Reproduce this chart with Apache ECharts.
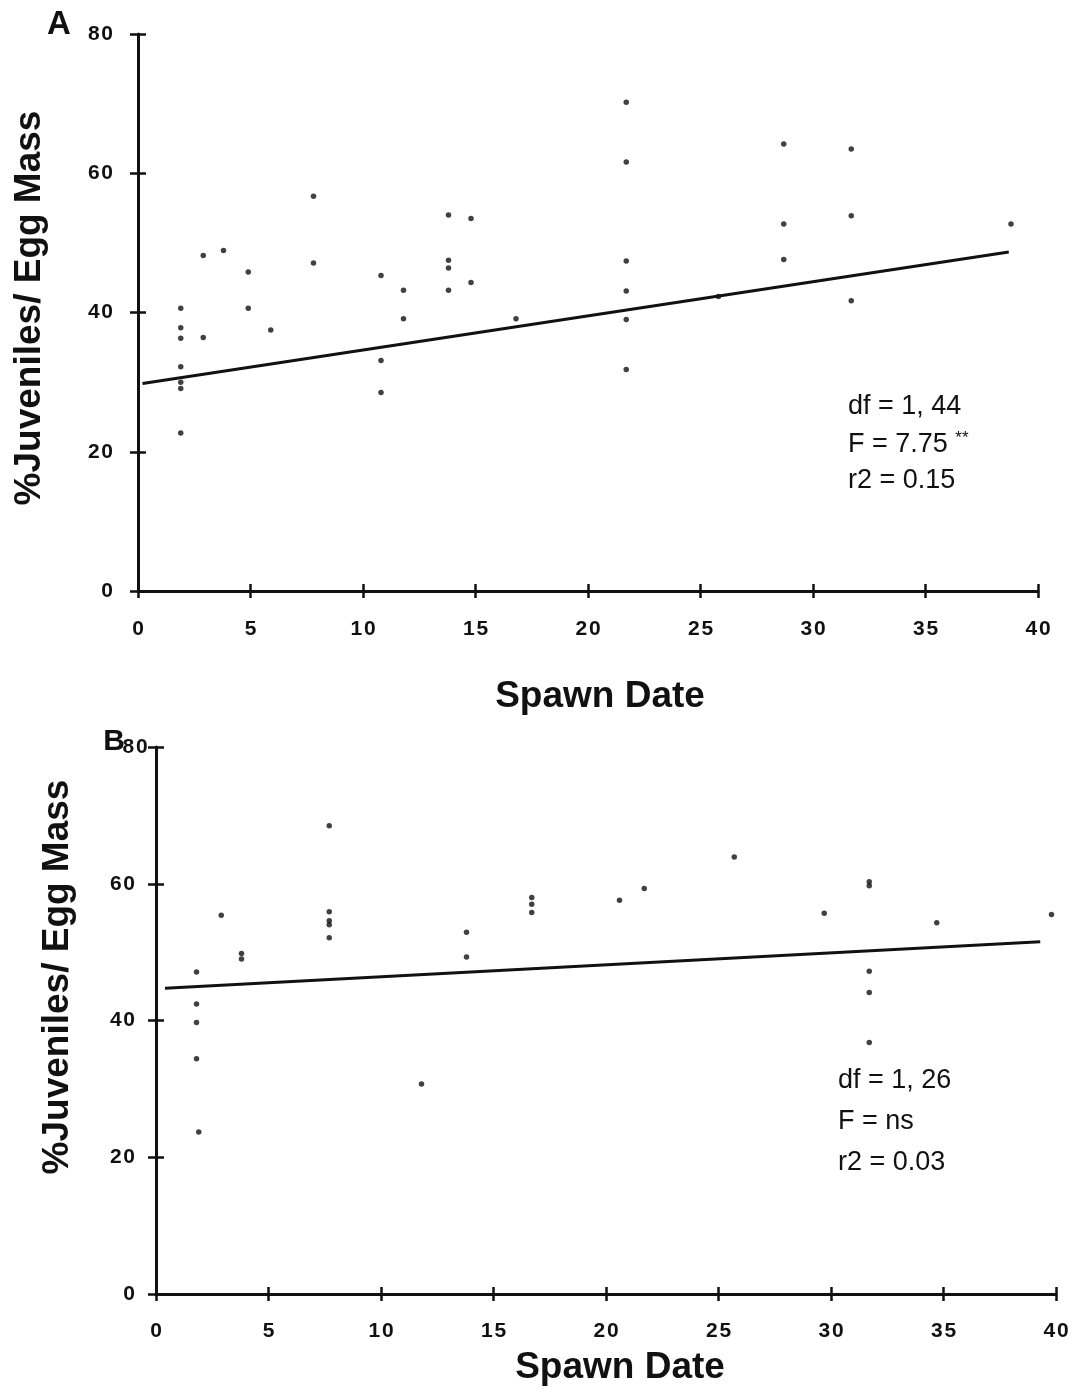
<!DOCTYPE html>
<html>
<head>
<meta charset="utf-8">
<script src="https://cdn.jsdelivr.net/npm/echarts@6/dist/echarts.min.js"></script>
<style>
  html, body { margin: 0; padding: 0; background: #fff; }
  #chart { width: 1075px; height: 1400px; }
</style>
</head>
<body>
<div id="chart"></div>
<script>
// Panel A: spawn date vs % juveniles per egg mass
const spawnDateA = [1.9, 1.9, 1.9, 1.9, 1.9, 1.9, 1.9, 2.9, 2.9, 3.8, 4.9, 4.9, 5.9, 7.8, 7.8,
  10.8, 10.8, 10.8, 11.8, 11.8, 13.8, 13.8, 13.8, 13.8, 14.8, 14.8, 16.8,
  21.7, 21.7, 21.7, 21.7, 21.7, 21.7, 25.8, 28.7, 28.7, 28.7, 31.7, 31.7, 31.7, 38.8];
const juvenilesA = [40.6, 37.8, 36.3, 32.2, 30.0, 29.1, 22.7, 48.2, 36.4, 48.9, 45.8, 40.6, 37.5, 56.7, 47.1,
  45.3, 33.1, 28.5, 43.2, 39.1, 54.0, 47.5, 46.4, 43.2, 53.5, 44.3, 39.1,
  70.2, 61.6, 47.4, 43.1, 39.0, 31.8, 42.3, 64.2, 52.7, 47.6, 63.5, 53.9, 41.7, 52.7];
// Fitted regression line A (end points)
const fitDateA = [0.2, 38.7];
const fitValueA = [29.8, 48.7];
const statsA = ['df = 1, 44', 'F = 7.75 ', '**', 'r2 = 0.15'];

// Panel B
const spawnDateB = [1.8, 1.8, 1.8, 1.8, 1.9, 2.9, 3.8, 3.8, 7.7, 7.7, 7.7, 7.7, 7.7, 11.8, 13.8, 13.8,
  16.7, 16.7, 16.7, 20.6, 21.7, 25.7, 29.7, 31.7, 31.7, 31.7, 31.7, 31.7, 34.7, 39.8];
const juvenilesB = [47.1, 42.4, 39.7, 34.4, 23.7, 55.4, 49.8, 49.0, 68.5, 55.9, 54.6, 54.0, 52.1, 30.7, 52.9, 49.3,
  58.0, 57.0, 55.8, 57.6, 59.3, 63.9, 55.7, 60.3, 59.7, 47.2, 44.1, 36.8, 54.3, 55.5];
const fitDateB = [0.4, 39.3];
const fitValueB = [44.7, 51.5];
const statsB = ['df = 1, 26', 'F = ns', 'r2 = 0.03'];

const xTicks = { min: 0, max: 40, interval: 5 };
const yTicks = { min: 0, max: 80, interval: 20 };

const INK = '#111';
const FONT = '"Liberation Sans", Arial, Helvetica, sans-serif';

const pairs = (xs, ys) => xs.map((x, i) => [x, ys[i]]);
// tick numbers are typeset with a little air between the digits
const spaced = v => String(v).split('').join('\u200a');

function xAxes(grid, labelSize, margin) {
  return [
    { gridIndex: grid, type: 'value', position: 'bottom', ...xTicks,
      axisLine: { onZero: false, lineStyle: { color: INK, width: 3 } },
      axisTick: { length: 7, lineStyle: { color: INK, width: 2.5 } },
      axisLabel: { margin: margin, fontSize: labelSize, fontWeight: 'bold', color: INK, fontFamily: FONT, formatter: spaced },
      splitLine: { show: false } },
    { gridIndex: grid, type: 'value', position: 'bottom', ...xTicks,
      axisLine: { show: false },
      axisTick: { inside: true, length: 7, lineStyle: { color: INK, width: 2.5 } },
      axisLabel: { show: false }, splitLine: { show: false } }
  ];
}
function yAxes(grid, labelSize, margin, topAlign) {
  return [
    { gridIndex: grid, type: 'value', position: 'left', ...yTicks,
      axisLine: { onZero: false, lineStyle: { color: INK, width: 3 } },
      axisTick: { length: 8, lineStyle: { color: INK, width: 2.5 } },
      axisLabel: { margin: margin, fontSize: labelSize, fontWeight: 'bold', color: INK, fontFamily: FONT,
        formatter: spaced, alignMaxLabel: topAlign || null },
      splitLine: { show: false } },
    { gridIndex: grid, type: 'value', position: 'left', ...yTicks,
      axisLine: { show: false },
      axisTick: { inside: true, length: 8, lineStyle: { color: INK, width: 2.5 } },
      axisLabel: { show: false }, splitLine: { show: false } }
  ];
}

function statText(lines, x, y0, step) {
  return lines.map((t, i) => ({
    type: 'text', left: x, top: y0 + i * step,
    style: { text: t, font: '27px ' + FONT, fill: INK }
  }));
}

const TITLE = 'bold 37px ' + FONT;

const chart = echarts.init(document.getElementById('chart'), null, { renderer: 'canvas' });
chart.setOption({
  animation: false,
  backgroundColor: '#fff',
  grid: [
    { left: 138, top: 34, width: 900, height: 557 },
    { left: 156, top: 747, width: 900, height: 547 }
  ],
  xAxis: [...xAxes(0, 21, 28), ...xAxes(1, 21, 27)],
  yAxis: [...yAxes(0, 21, 25), ...yAxes(1, 21, 21, 'center')],
  series: [
    { type: 'scatter', xAxisIndex: 0, yAxisIndex: 0, data: pairs(spawnDateA, juvenilesA),
      symbol: 'circle', symbolSize: 5.5, itemStyle: { color: INK } },
    { type: 'line', xAxisIndex: 0, yAxisIndex: 0, data: pairs(fitDateA, fitValueA),
      symbol: 'none', lineStyle: { color: INK, width: 3 } },
    { type: 'scatter', xAxisIndex: 2, yAxisIndex: 2, data: pairs(spawnDateB, juvenilesB),
      symbol: 'circle', symbolSize: 5.5, itemStyle: { color: INK } },
    { type: 'line', xAxisIndex: 2, yAxisIndex: 2, data: pairs(fitDateB, fitValueB),
      symbol: 'none', lineStyle: { color: INK, width: 3 } }
  ],
  graphic: [
    // panel letters
    { type: 'text', x: 59, y: 25, style: { text: 'A', font: 'bold 33px ' + FONT, fill: INK, align: 'center', verticalAlign: 'middle' } },
    { type: 'text', x: 114, y: 742, style: { text: 'B', font: 'bold 30px ' + FONT, fill: INK, align: 'center', verticalAlign: 'middle' } },
    // axis titles
    { type: 'text', x: 30, y: 308, rotation: Math.PI / 2,
      style: { text: '%Juveniles/ Egg Mass', font: TITLE, fill: INK, align: 'center', verticalAlign: 'middle' } },
    { type: 'text', x: 600, y: 697,
      style: { text: 'Spawn Date', font: TITLE, fill: INK, align: 'center', verticalAlign: 'middle' } },
    { type: 'text', x: 58, y: 977, rotation: Math.PI / 2,
      style: { text: '%Juveniles/ Egg Mass', font: TITLE, fill: INK, align: 'center', verticalAlign: 'middle' } },
    { type: 'text', x: 620, y: 1368,
      style: { text: 'Spawn Date', font: TITLE, fill: INK, align: 'center', verticalAlign: 'middle' } },
    // regression statistics, panel A
    { type: 'text', left: 848, top: 393, style: { text: statsA[0], font: '27px ' + FONT, fill: INK } },
    { type: 'text', left: 848, top: 430, style: {
        text: '{a|' + statsA[1] + '}{s|' + statsA[2] + '}',
        rich: { a: { font: '27px ' + FONT, fill: INK }, s: { font: '17px ' + FONT, fill: INK, padding: [0, 0, 12, 0] } } } },
    { type: 'text', left: 848, top: 467, style: { text: statsA[3], font: '27px ' + FONT, fill: INK } },
    // regression statistics, panel B
    ...statText(statsB, 838, 1067, 41)
  ]
});
</script>
</body>
</html>
